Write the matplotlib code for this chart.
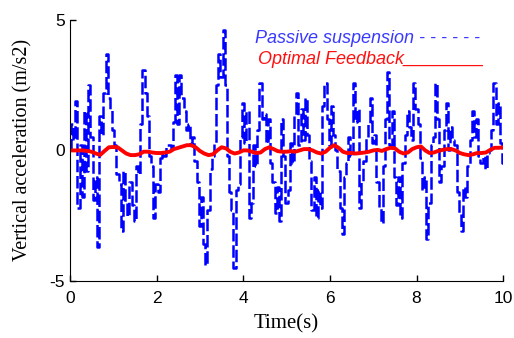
import numpy as np
from matplotlib import pyplot as plt

plt.rcParams["axes.unicode_minus"] = False

# passive suspension, sampled every 0.05 s
dt_passive = 0.05
passive = [
    0.0, 1.0, 0.4, 1.9, -2.2, 0.2, -1.8, 1.5, -0.8, 2.5,
    0.5, -1.9, -1.0, -3.7, 1.3, 0.6, 2.2, 3.7, 2.0, 1.6,
    0.8, 0.2, -0.9, -1.3, -3.1, -0.8, -2.0, -2.5, -1.2, -2.1,
    -2.7, -0.6, -0.9, 1.0, 3.1, 2.2, 1.3, -0.2, -0.6, -2.6,
    -1.3, -1.6, -0.3, -0.1, -0.2, 0.2, 0.2, 0.1, 1.1, 2.9,
    1.0, 2.9, 2.0, 1.5, 0.8, 1.0, 0.3, 0.5, -0.4, -1.2,
    -2.9, -1.8, -3.6, -4.4, -2.3, -0.7, -0.2, 0.3, 2.5, 3.7,
    2.8, 4.6, 2.5, -0.2, -1.6, -2.3, -4.5, -1.5, -1.3, 0.5,
    1.8, 0.3, 1.5, -2.6, -2.0, 0.2, -0.6, 0.8, 2.6, 1.2,
    1.4, 0.3, 1.2, -0.5, -1.2, -2.4, -1.4, -2.7, 1.2, -0.2,
    -2.0, -1.5, 0.3, -0.5, 1.3, 2.2, 0.2, 1.6, 0.4, 2.0,
    0.6, -0.4, -2.3, -1.0, -2.6, -1.5, -2.2, 1.7, 2.6, 1.2,
    0.2, 1.7, 0.6, 0.0, -0.8, -2.2, -3.2, -1.0, -0.5, 0.5,
    -0.2, 2.6, 1.1, 1.6, -2.2, -1.2, -0.4, 0.5, 1.0, 2.0,
    0.3, 0.6, -1.2, -2.2, -2.8, -0.6, 1.2, 3.0, 0.2, 1.5,
    -1.0, -2.1, -1.0, -2.6, -0.5, 0.6, 1.5, 0.9, 0.4, 2.6,
    1.6, 1.0, -0.3, -1.5, -1.0, -3.4, -2.0, 0.2, 0.5, 2.6,
    1.2, -1.2, -0.6, 0.8, 1.8, 0.0, 0.9, 0.4, 0.2, -1.6,
    -2.4, -3.1, -1.4, -1.8, -0.6, 0.4, 1.5, 0.5, 1.2, -0.2,
    -0.5, -0.2, -0.7, -0.1, 0.0, 0.8, 2.6, 1.0, 1.8, 0.3,
    -0.5,
]

# optimal feedback, sampled every 0.1 s
dt_optimal = 0.1
optimal = [
    0.0, 0.0, 0.0, 0.0, -0.02, -0.05, -0.12, -0.17, -0.02, 0.12,
    0.13, 0.12, 0.0, -0.12, -0.18, -0.18, -0.15, -0.05, -0.05, -0.08,
    -0.1, -0.1, -0.08, -0.05, 0.05, 0.1, 0.15, 0.2, 0.2, 0.12,
    -0.02, -0.12, -0.18, -0.15, 0.0, 0.12, 0.08, -0.05, -0.12, -0.08,
    0.0, 0.0, -0.05, -0.1, -0.08, 0.05, 0.12, 0.05, -0.03, -0.05,
    -0.05, -0.03, -0.05, 0.0, 0.05, 0.05, 0.0, -0.08, -0.12, -0.05,
    0.1, 0.2, 0.1, -0.05, -0.1, -0.1, -0.12, -0.1, -0.08, -0.05,
    0.0, 0.02, -0.02, 0.05, 0.1, 0.08, -0.05, -0.12, -0.08, 0.05,
    0.12, 0.15, 0.0, -0.1, -0.08, -0.02, 0.02, 0.05, 0.05, 0.0,
    -0.1, -0.15, -0.18, -0.15, -0.1, -0.1, -0.08, 0.02, 0.1, 0.1,
    0.12,
]

x_ticks = [0, 2, 4, 6, 8, 10]
y_ticks = [-5, 0, 5]

t_passive = np.arange(len(passive)) * dt_passive
t_optimal = np.arange(len(optimal)) * dt_optimal

fig = plt.figure(figsize=(5.14, 3.38), dpi=100)
ax = fig.add_axes([0.136, 0.169, 0.843, 0.772])

ax.plot(t_passive, passive, color="blue", lw=1.8, linestyle=(0, (5, 1.5)),
        drawstyle="steps-mid")
ax.plot(t_optimal, optimal, color="red", lw=2.8)

ax.set_xlim(0, 10)
ax.set_ylim(-5, 5)
ax.set_xticks(x_ticks)
ax.set_yticks(y_ticks)
ax.tick_params(direction="in", length=4, labelsize=12.5, width=1)
ax.tick_params(axis="x", pad=7)
for lab in ax.get_xticklabels() + ax.get_yticklabels():
    lab.set_family("Liberation Sans")
ax.spines["top"].set_visible(False)
ax.spines["right"].set_visible(False)

ax.set_xlabel("Time(s)", family="Liberation Serif", fontsize=15, labelpad=6)
ax.set_ylabel("Vertical acceleration (m/s2)", family="Liberation Serif", fontsize=14.5, labelpad=12)

ax.text(0.428, 0.93, "Passive suspension - - - - - -", transform=ax.transAxes,
        color="#3a3aff", style="italic", family="Liberation Sans", fontsize=13, va="center")
ax.text(0.435, 0.85, "Optimal Feedback________", transform=ax.transAxes,
        color="#ff1010", style="italic", family="Liberation Sans", fontsize=13, va="center")

fig.savefig("out.png", dpi=100)
